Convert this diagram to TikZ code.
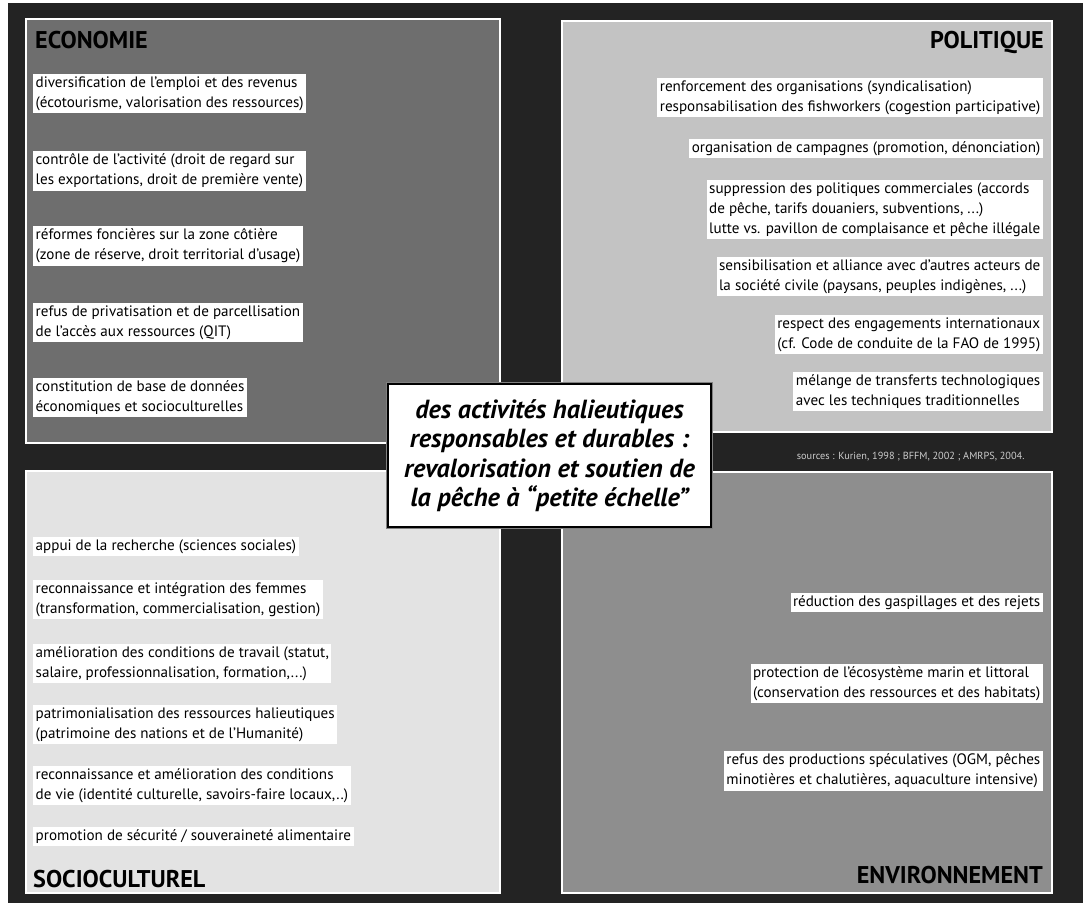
\documentclass[tikz,border=0pt]{standalone}
\usepackage{fontspec}
\setmainfont{PT Sans}
\definecolor{fond}{HTML}{232323}
\definecolor{eco}{HTML}{6E6E6E}
\definecolor{poli}{HTML}{C3C3C3}
\definecolor{socio}{HTML}{E3E3E3}
\definecolor{envi}{HTML}{8E8E8E}
\begin{document}
\begin{tikzpicture}[x=1pt, y=-1pt,
  panel/.style={draw=white, line width=1.8pt},
  item/.style={fill=white, inner xsep=2.5pt, inner ysep=2.5pt, align=left,
    font=\fontsize{15.1}{20}\selectfont},
  heading/.style={inner sep=0pt, font=\fontsize{24.2}{28}\selectfont\bfseries}]
  \useasboundingbox (0,0) rectangle (1083,903);
  \fill[white] (0,0) rectangle (1083,903);
  \fill[fond] (8,3) rectangle (1083,903);
  \filldraw[panel, fill=eco] (26,19) rectangle (500,443);
  \filldraw[panel, fill=poli] (562,21) rectangle (1052,432);
  \filldraw[panel, fill=socio] (26,471) rectangle (500,893);
  \filldraw[panel, fill=envi] (562,472) rectangle (1052,893);

  \node[heading, anchor=base west] (ecoT) at (35,48) {ECONOMIE};
  \node[item, anchor=north west] (eco1) at (33,74) {diversification de l'emploi et des revenus\\(écotourisme, valorisation des ressources)};
  \node[item, anchor=north west] (eco2) at (33,151) {contrôle de l’activité (droit de regard sur\\les exportations, droit de première vente)};
  \node[item, anchor=north west] (eco3) at (33,226) {réformes foncières sur la zone côtière\\(zone de réserve, droit territorial d’usage)};
  \node[item, anchor=north west] (eco4) at (33,303) {refus de privatisation et de parcellisation\\de l'accès aux ressources (QIT)};
  \node[item, anchor=north west] (eco5) at (33,378) {constitution de base de données\\économiques et socioculturelles};

  \node[heading, anchor=base east] (poliT) at (1044,48) {POLITIQUE};
  \node[item, anchor=north east] (poli1) at (1043,78) {renforcement des organisations (syndicalisation)\\responsabilisation des fishworkers (cogestion participative)};
  \node[item, anchor=north east] (poli2) at (1043,139) {organisation de campagnes (promotion, dénonciation)};
  \node[item, anchor=north east] (poli3) at (1043,180) {suppression des politiques commerciales (accords\\de pêche, tarifs douaniers, subventions, ...)\\lutte vs. pavillon de complaisance et pêche illégale};
  \node[item, anchor=north east] (poli4) at (1043,257) {sensibilisation et alliance avec d'autres acteurs de\\la société civile (paysans, peuples indigènes, ...)};
  \node[item, anchor=north east] (poli5) at (1043,315) {respect des engagements internationaux\\(cf. Code de conduite de la FAO de 1995)};
  \node[item, anchor=north east] (poli6) at (1043,372) {mélange de transferts technologiques\\avec les techniques traditionnelles};
  \node[anchor=east, text=gray!40, font=\fontsize{10.3}{12}\selectfont] (src) at (1028,457) {sources : Kurien, 1998 ; BFFM, 2002 ; AMRPS, 2004.};

  \node[item, anchor=north west] (socio1) at (33,537) {appui de la recherche (sciences sociales)};
  \node[item, anchor=north west] (socio2) at (33,580) {reconnaissance et intégration des femmes\\(transformation, commercialisation, gestion)};
  \node[item, anchor=north west] (socio3) at (33,644) {amélioration des conditions de travail (statut,\\salaire, professionnalisation, formation,...)};
  \node[item, anchor=north west] (socio4) at (33,705) {patrimonialisation des ressources halieutiques\\(patrimoine des nations et de l’Humanité)};
  \node[item, anchor=north west] (socio5) at (33,766) {reconnaissance et amélioration des conditions\\de vie (identité culturelle, savoirs-faire locaux,..)};
  \node[item, anchor=north west] (socio6) at (33,827) {promotion de sécurité / souveraineté alimentaire};
  \node[heading, anchor=base west] (socioT) at (33,887) {SOCIOCULTUREL};

  \node[item, anchor=north east] (envi1) at (1043,593) {réduction des gaspillages et des rejets};
  \node[item, anchor=north east] (envi2) at (1043,664) {protection de l'écosystème marin et littoral\\(conservation des ressources et des habitats)};
  \node[item, anchor=north east] (envi3) at (1043,751) {refus des productions spéculatives (OGM, pêches\\minotières et chalutières, aquaculture intensive)};
  \node[heading, anchor=base east] (enviT) at (1043,883) {ENVIRONNEMENT};

  \node[draw=gray, line width=3.2pt, minimum width=323pt, minimum height=143pt] (ombre) at (549.5,455.5) {};
  \node[draw=black, fill=white, line width=1.6pt, minimum width=323pt, minimum height=143pt,
    align=center, font=\fontsize{26.2}{29.5}\selectfont\bfseries\itshape] (centre) at (549.5,455.5)
    {des activités halieutiques\\responsables et durables :\\revalorisation et soutien de\\la pêche à “petite échelle”};
\end{tikzpicture}
\end{document}
